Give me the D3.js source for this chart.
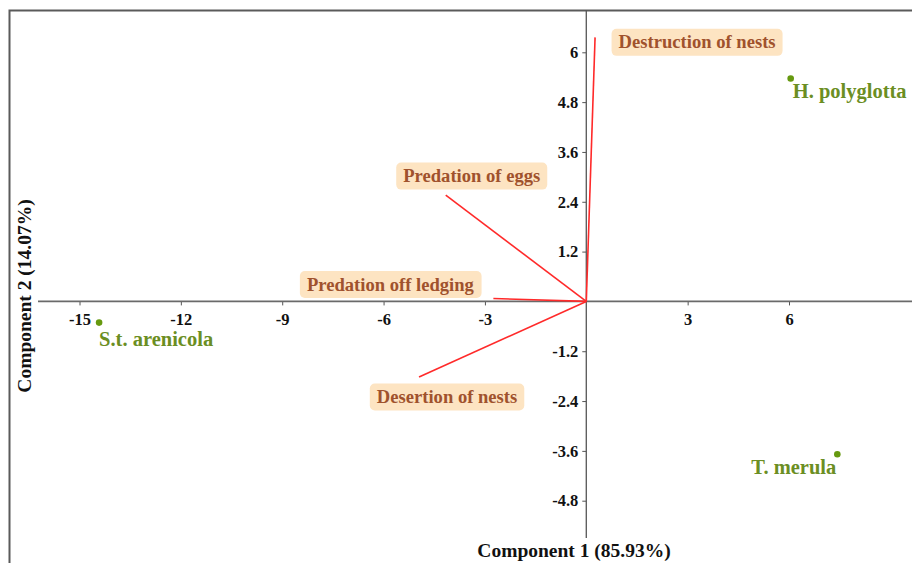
<!DOCTYPE html>
<html>
<head>
<meta charset="utf-8">
<script src="https://cdn.jsdelivr.net/npm/d3@7/dist/d3.min.js"></script>
<style>
  html, body { margin: 0; padding: 0; background: #fff; }
  svg { display: block; }
  text { font-family: "Liberation Serif", "Times New Roman", serif; font-weight: bold; }
</style>
</head>
<body>
<svg id="chart" width="912" height="563"></svg>
<script>
// PCA biplot: species scores and loading vectors of nest-failure causes
const species = ["H. polyglotta", "S.t. arenicola", "T. merula"];
const speciesPC1 = [6.05, -14.42, 7.43];
const speciesPC2 = [5.37, -0.51, -3.68];

const variables = ["Destruction of nests", "Predation of eggs", "Predation off ledging", "Desertion of nests"];
const loadPC1 = [0.26, -4.16, -2.75, -4.95];
const loadPC2 = [6.36, 2.56, 0.07, -1.82];

const xTicks = [-15, -12, -9, -6, -3, 3, 6];
const yTicks = [6, 4.8, 3.6, 2.4, 1.2, -1.2, -2.4, -3.6, -4.8];

const xTitle = "Component 1 (85.93%)";
const yTitle = "Component 2 (14.07%)";

// label placement (pixel offsets of each label box centre from its arrow tip)
const varLabelOffset = {
  "Destruction of nests": [102, 5],
  "Predation of eggs": [26, -19],
  "Predation off ledging": [-103, -14],
  "Desertion of nests": [28, 20]
};
const speciesLabelLayout = {
  "H. polyglotta": { anchor: "start", dx: 2, dy: 20 },
  "S.t. arenicola": { anchor: "start", dx: 0, dy: 23 },
  "T. merula": { anchor: "end", dx: -1, dy: 20 }
};

const svg = d3.select("#chart");

const x = d3.scaleLinear().domain([-15, 6]).range([79.5, 789]);
const y = d3.scaleLinear().domain([6, -4.8]).range([52.3, 500.7]);

const x0 = x(0), y0 = y(0);
const signed = d => (d < 0 ? "-" + Math.abs(d) : String(d));

// frame (left and top edges)
svg.append("path")
  .attr("d", `M9.5,563 L9.5,10.5 L912,10.5`)
  .attr("fill", "none").attr("stroke", "#5a5a5a").attr("stroke-width", 2);

// horizontal axis through the origin
const xAxis = d3.axisBottom(x).tickValues(xTicks).tickSize(4).tickPadding(8)
  .tickFormat(signed);
const gx = svg.append("g").attr("transform", `translate(0,${y0})`).call(xAxis);
gx.select(".domain").remove();
gx.append("line").attr("x1", 38).attr("x2", 912).attr("stroke", "#6a6a6a").attr("stroke-width", 1.6);
gx.selectAll(".tick line").attr("stroke", "#555");
gx.selectAll(".tick text")
  .attr("fill", "#111").attr("font-size", 16.5)
  .attr("font-family", "'Liberation Serif', serif").attr("font-weight", "bold");

// vertical axis through the origin
const yAxis = d3.axisLeft(y).tickValues(yTicks).tickSize(4).tickPadding(4)
  .tickFormat(signed);
const gy = svg.append("g").attr("transform", `translate(${x0},0)`).call(yAxis);
gy.select(".domain").remove();
gy.append("line").attr("y1", 10).attr("y2", 538).attr("stroke", "#555").attr("stroke-width", 1.3);
gy.selectAll(".tick line").attr("stroke", "#555");
gy.selectAll(".tick text")
  .attr("fill", "#111").attr("font-size", 16.5)
  .attr("font-family", "'Liberation Serif', serif").attr("font-weight", "bold");

// loading vectors
const loadings = variables.map((v, i) => ({ name: v, pc1: loadPC1[i], pc2: loadPC2[i] }));
svg.append("g").selectAll("line").data(loadings).join("line")
  .attr("x1", x0).attr("y1", y0)
  .attr("x2", d => x(d.pc1)).attr("y2", d => y(d.pc2))
  .attr("stroke", "#ff2a2a").attr("stroke-width", 1.6);

// loading labels in rounded boxes
const lab = svg.append("g").selectAll("g").data(loadings).join("g")
  .attr("transform", d => {
    const o = varLabelOffset[d.name];
    return `translate(${x(d.pc1) + o[0]},${y(d.pc2) + o[1]})`;
  });
lab.append("rect").attr("class", "bg");
lab.append("text")
  .attr("text-anchor", "middle").attr("dy", 6)
  .attr("font-size", 18.6).attr("fill", "#a0522d")
  .text(d => d.name);
lab.each(function () {
  const g = d3.select(this);
  const bb = g.select("text").node().getBBox();
  g.select("rect")
    .attr("x", bb.x - 7).attr("y", -13.5)
    .attr("width", bb.width + 14).attr("height", 27)
    .attr("rx", 5).attr("fill", "#fde4c2");
});

// species scores
const scores = species.map((s, i) => ({ name: s, pc1: speciesPC1[i], pc2: speciesPC2[i] }));
svg.append("g").selectAll("circle").data(scores).join("circle")
  .attr("cx", d => x(d.pc1)).attr("cy", d => y(d.pc2)).attr("r", 3.3)
  .attr("fill", "#66990f");
svg.append("g").selectAll("text").data(scores).join("text")
  .attr("x", d => x(d.pc1) + speciesLabelLayout[d.name].dx)
  .attr("y", d => y(d.pc2) + speciesLabelLayout[d.name].dy)
  .attr("text-anchor", d => speciesLabelLayout[d.name].anchor)
  .attr("font-size", 20.5).attr("fill", "#6b8e23")
  .text(d => d.name);

// axis titles
svg.append("text").attr("x", 574).attr("y", 557)
  .attr("text-anchor", "middle").attr("font-size", 19.5).attr("fill", "#111")
  .text(xTitle);
svg.append("text").attr("transform", "translate(31,296) rotate(-90)")
  .attr("text-anchor", "middle").attr("font-size", 19.5).attr("fill", "#111")
  .text(yTitle);
</script>
</body>
</html>
